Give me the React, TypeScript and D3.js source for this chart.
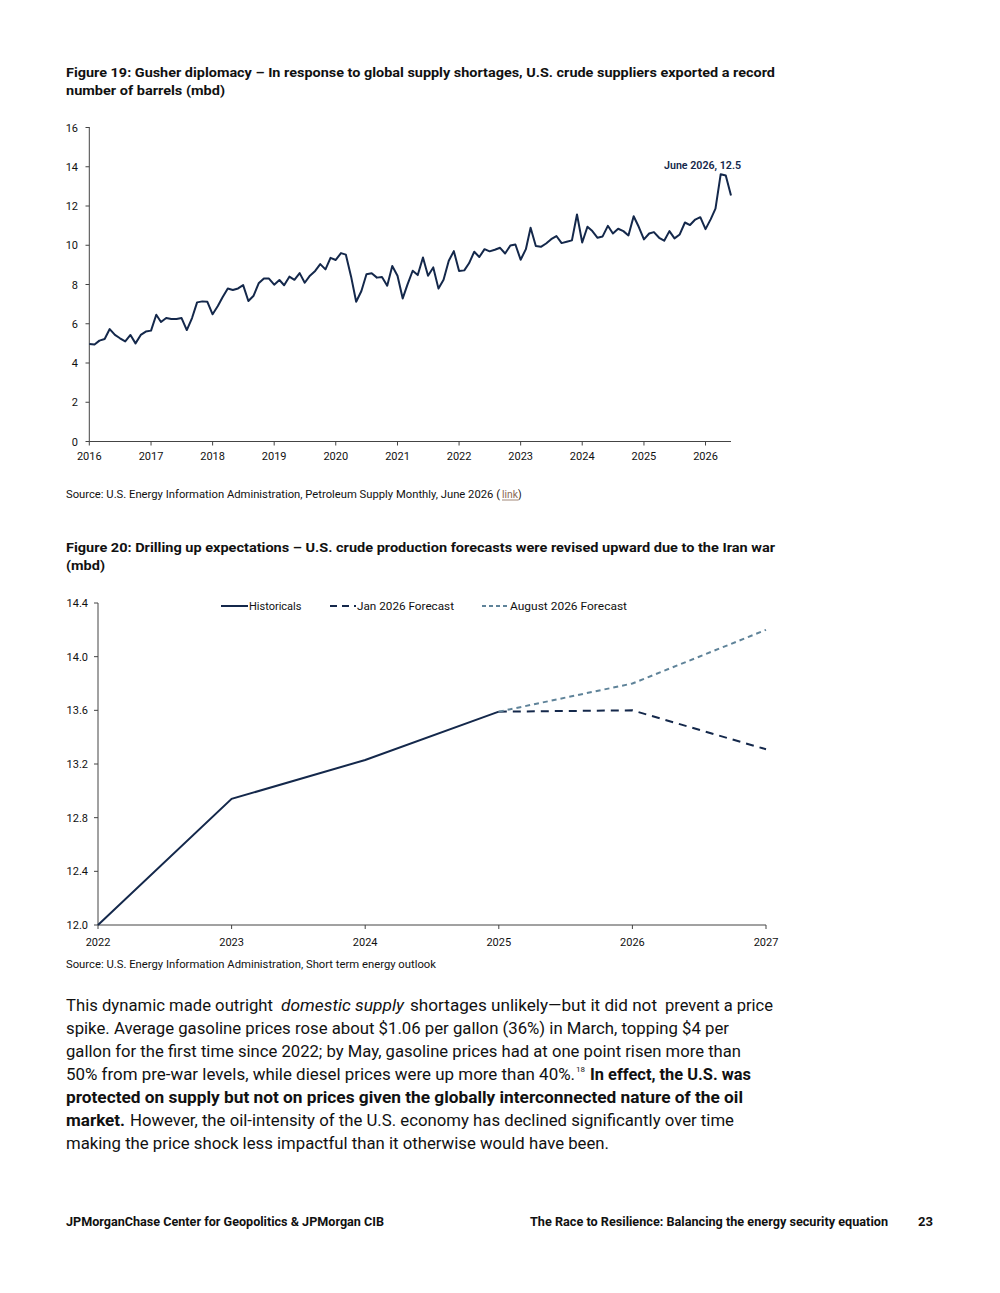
import React from 'react';
import * as d3 from 'd3';

// ---------- Figure 19 data: U.S. crude exports (mbd), monthly Jan 2016 - Jun 2026 ----------
const exp2016 = [4.97, 4.94, 5.14, 5.22, 5.73, 5.43, 5.26, 5.10, 5.43, 5.00, 5.43, 5.60];
const exp2017 = [5.65, 6.46, 6.09, 6.29, 6.24, 6.24, 6.29, 5.68, 6.29, 7.09, 7.14, 7.12];
const exp2018 = [6.48, 6.90, 7.35, 7.80, 7.72, 7.80, 7.97, 7.16, 7.43, 8.06, 8.31, 8.30];
const exp2019 = [7.99, 8.23, 7.96, 8.40, 8.24, 8.58, 8.09, 8.45, 8.69, 9.04, 8.77, 9.36];
const exp2020 = [9.25, 9.60, 9.52, 8.40, 7.12, 7.67, 8.52, 8.57, 8.35, 8.38, 7.94, 8.94];
const exp2021 = [8.45, 7.29, 7.99, 8.70, 8.48, 9.38, 8.45, 8.87, 7.79, 8.24, 9.21, 9.70];
const exp2022 = [8.69, 8.72, 9.08, 9.67, 9.40, 9.80, 9.69, 9.77, 9.87, 9.58, 9.99, 10.04];
const exp2023 = [9.26, 9.80, 10.89, 9.96, 9.92, 10.09, 10.31, 10.47, 10.11, 10.18, 10.25, 11.57];
const exp2024 = [10.14, 10.94, 10.72, 10.38, 10.45, 10.99, 10.60, 10.84, 10.72, 10.50, 11.48, 10.94];
const exp2025 = [10.30, 10.60, 10.67, 10.38, 10.23, 10.72, 10.35, 10.55, 11.16, 11.03, 11.31, 11.43];
const exp2026 = [10.82, 11.33, 11.87, 13.62, 13.55, 12.54];
const exportYears = [2016, 2017, 2018, 2019, 2020, 2021, 2022, 2023, 2024, 2025, 2026];
const exportTicksY = [0, 2, 4, 6, 8, 10, 12, 14, 16];
const exportAnnotation = 'June 2026, 12.5';

// ---------- Figure 20 data: U.S. crude production (mbd) ----------
const prodYears = [2022, 2023, 2024, 2025, 2026, 2027];
const histYears = [2022, 2023, 2024, 2025];
const historicals = [12.0, 12.94, 13.23, 13.59];
const fcYears = [2025, 2026, 2027];
const jan2026Forecast = [13.59, 13.6, 13.31];
const aug2026Forecast = [13.59, 13.8, 14.2];
const prodTicksY = [12.0, 12.4, 12.8, 13.2, 13.6, 14.0, 14.4];
const legendLabels = ['Historicals', 'Jan 2026 Forecast', 'August 2026 Forecast'];

const FONT = "Roboto, 'Liberation Sans', Arial, sans-serif";
const NAVY = '#14284b';
const STEEL = '#5f8399';
const AXIS = '#444';
const TXT = '#111';

type TP = {
  x: number; y: number; w?: number; size?: number; weight?: number | string;
  anchor?: 'start' | 'middle' | 'end'; fill?: string; style?: string; children: React.ReactNode;
};
const T = ({ x, y, w, size = 11, weight = 400, anchor = 'start', fill = TXT, style, children }: TP) => (
  <text
    x={x}
    y={y}
    fontSize={size}
    fontWeight={weight}
    fontStyle={style}
    textAnchor={anchor}
    fill={fill}
    fontFamily={FONT}
    {...(w ? { textLength: w, lengthAdjust: 'spacingAndGlyphs' } : {})}
  >
    {children}
  </text>
);

export default function App() {
  // ----- Figure 19 -----
  const exportValues = [
    ...exp2016, ...exp2017, ...exp2018, ...exp2019, ...exp2020, ...exp2021,
    ...exp2022, ...exp2023, ...exp2024, ...exp2025, ...exp2026,
  ];
  const exportData = exportValues.map((v, i) => ({ date: new Date(2016, i, 1), v }));
  const x1 = d3.scaleTime().domain([new Date(2016, 0, 1), new Date(2026, 5, 1)]).range([89.3, 731]);
  const y1 = d3.scaleLinear().domain([0, 16]).range([441.5, 127.5]);
  const line1 = d3.line<{ date: Date; v: number }>().x(d => x1(d.date)).y(d => y1(d.v));
  const last = exportData[exportData.length - 1];
  const annX = x1(last.date) - 67;

  // ----- Figure 20 -----
  const x2 = d3.scaleLinear().domain([2022, 2027]).range([98, 766]);
  const y2 = d3.scaleLinear().domain([12.0, 14.4]).range([925, 603]);
  const line2 = d3.line<[number, number]>().x(d => x2(d[0])).y(d => y2(d[1]));
  const histPts = histYears.map((yr, i) => [yr, historicals[i]] as [number, number]);
  const janPts = fcYears.map((yr, i) => [yr, jan2026Forecast[i]] as [number, number]);
  const augPts = fcYears.map((yr, i) => [yr, aug2026Forecast[i]] as [number, number]);

  return (
    <svg
      width={1000}
      height={1293}
      viewBox="0 0 1000 1293"
      style={{ position: 'absolute', left: 0, top: 0, background: '#fff' }}
    >
      <rect x={0} y={0} width={1000} height={1293} fill="#fff" />

      {/* ===== Figure 19 ===== */}
      <T x={66} y={77} w={709} size={13.5} weight={700}>
        Figure 19: Gusher diplomacy – In response to global supply shortages, U.S. crude suppliers exported a record
      </T>
      <T x={66} y={95} w={159} size={13.5} weight={700}>number of barrels (mbd)</T>

      {/* y axis */}
      <line x1={89.3} x2={89.3} y1={127} y2={441.5} stroke={AXIS} strokeWidth={1} />
      {exportTicksY.map(t => (
        <g key={'y1' + t}>
          <line x1={85.5} x2={89.3} y1={y1(t)} y2={y1(t)} stroke={AXIS} strokeWidth={1} />
          <T x={78} y={y1(t) + 4} size={11} anchor="end">{t}</T>
        </g>
      ))}
      {/* x axis */}
      <line x1={89.3} x2={731} y1={441.5} y2={441.5} stroke={AXIS} strokeWidth={1} />
      {exportYears.map(yr => {
        const xx = x1(new Date(yr, 0, 1));
        return (
          <g key={'x1' + yr}>
            <line x1={xx} x2={xx} y1={441.5} y2={445.5} stroke={AXIS} strokeWidth={1} />
            <T x={xx} y={460} size={11} anchor="middle">{yr}</T>
          </g>
        );
      })}
      <path d={line1(exportData) || ''} fill="none" stroke={NAVY} strokeWidth={2} strokeLinejoin="round" />
      <T x={annX} y={169} w={77} size={11} weight={600} fill={NAVY} anchor="start">
        {exportAnnotation}
      </T>
      <text x={66} y={498} fontSize={10.5} fontFamily={FONT} fill={TXT}>
        <tspan x={66} textLength={434} lengthAdjust="spacingAndGlyphs">
          Source: U.S. Energy Information Administration, Petroleum Supply Monthly, June 2026 (
        </tspan>
        <tspan x={502} textLength={16} lengthAdjust="spacingAndGlyphs" fill="#8a6a55">
          link
        </tspan>
        <tspan x={518}>)</tspan>
      </text>
      <line x1={502} x2={518} y1={500} y2={500} stroke="#8a6a55" strokeWidth={0.8} />

      {/* ===== Figure 20 ===== */}
      <T x={66} y={552} w={709} size={13.5} weight={700}>
        Figure 20: Drilling up expectations – U.S. crude production forecasts were revised upward due to the Iran war
      </T>
      <T x={66} y={570} w={39} size={13.5} weight={700}>(mbd)</T>

      <line x1={98} x2={98} y1={603} y2={925} stroke={AXIS} strokeWidth={1} />
      {prodTicksY.map(t => (
        <g key={'y2' + t}>
          <line x1={94} x2={98} y1={y2(t)} y2={y2(t)} stroke={AXIS} strokeWidth={1} />
          <T x={88} y={y2(t) + 4} size={11} anchor="end">{t.toFixed(1)}</T>
        </g>
      ))}
      <line x1={98} x2={766} y1={925} y2={925} stroke={AXIS} strokeWidth={1} />
      {prodYears.map(yr => (
        <g key={'x2' + yr}>
          <line x1={x2(yr)} x2={x2(yr)} y1={925} y2={929} stroke={AXIS} strokeWidth={1} />
          <T x={x2(yr)} y={946} size={11} anchor="middle">{yr}</T>
        </g>
      ))}

      <path d={line2(histPts) || ''} fill="none" stroke={NAVY} strokeWidth={2} />
      <path d={line2(janPts) || ''} fill="none" stroke={NAVY} strokeWidth={2} strokeDasharray="8 6" />
      <path d={line2(augPts) || ''} fill="none" stroke={STEEL} strokeWidth={2} strokeDasharray="5 4" />

      {/* legend */}
      <line x1={221} x2={248} y1={606} y2={606} stroke={NAVY} strokeWidth={2} />
      <T x={249} y={610} size={11}>{legendLabels[0]}</T>
      <line x1={330} x2={356} y1={606} y2={606} stroke={NAVY} strokeWidth={2} strokeDasharray="7 5" />
      <T x={357} y={610} w={97} size={11}>{legendLabels[1]}</T>
      <line x1={482} x2={508} y1={606} y2={606} stroke={STEEL} strokeWidth={2} strokeDasharray="4 3" />
      <T x={510} y={610} w={117} size={11}>{legendLabels[2]}</T>

      <T x={66} y={968} w={370} size={10.5}>
        Source: U.S. Energy Information Administration, Short term energy outlook
      </T>

      {/* ===== Body text ===== */}
      <text y={1011} fontSize={17} fontFamily={FONT} fill={TXT}>
        <tspan x={66} textLength={207} lengthAdjust="spacingAndGlyphs">This dynamic made outright</tspan>
        <tspan x={281} textLength={123} lengthAdjust="spacingAndGlyphs" fontStyle="italic">domestic supply</tspan>
        <tspan x={410} textLength={247} lengthAdjust="spacingAndGlyphs">shortages unlikely—but it did not</tspan>
        <tspan x={665} textLength={108} lengthAdjust="spacingAndGlyphs">prevent a price</tspan>
      </text>
      <T x={66} y={1034} w={663} size={17}>
        spike. Average gasoline prices rose about $1.06 per gallon (36%) in March, topping $4 per
      </T>
      <T x={66} y={1057} w={675} size={17}>
        gallon for the first time since 2022; by May, gasoline prices had at one point risen more than
      </T>
      <text y={1080} fontSize={17} fontFamily={FONT} fill={TXT}>
        <tspan x={66} textLength={509} lengthAdjust="spacingAndGlyphs">
          50% from pre-war levels, while diesel prices were up more than 40%.
        </tspan>
        <tspan x={576} y={1072} fontSize={8}>18</tspan>
        <tspan x={590} y={1080} textLength={161} lengthAdjust="spacingAndGlyphs" fontWeight={700}>
          In effect, the U.S. was
        </tspan>
      </text>
      <T x={66} y={1103} w={677} size={17} weight={700}>
        protected on supply but not on prices given the globally interconnected nature of the oil
      </T>
      <text y={1126} fontSize={17} fontFamily={FONT} fill={TXT}>
        <tspan x={66} textLength={59} lengthAdjust="spacingAndGlyphs" fontWeight={700}>market.</tspan>
        <tspan x={130} textLength={604} lengthAdjust="spacingAndGlyphs">
          However, the oil-intensity of the U.S. economy has declined significantly over time
        </tspan>
      </text>
      <T x={66} y={1149} w={543} size={17}>
        making the price shock less impactful than it otherwise would have been.
      </T>

      {/* ===== Footer ===== */}
      <T x={66} y={1226} w={318} size={12} weight={700}>JPMorganChase Center for Geopolitics &amp; JPMorgan CIB</T>
      <T x={530} y={1226} w={358} size={12} weight={700}>
        The Race to Resilience: Balancing the energy security equation
      </T>
      <T x={918} y={1226} w={15} size={12} weight={700}>23</T>
    </svg>
  );
}
